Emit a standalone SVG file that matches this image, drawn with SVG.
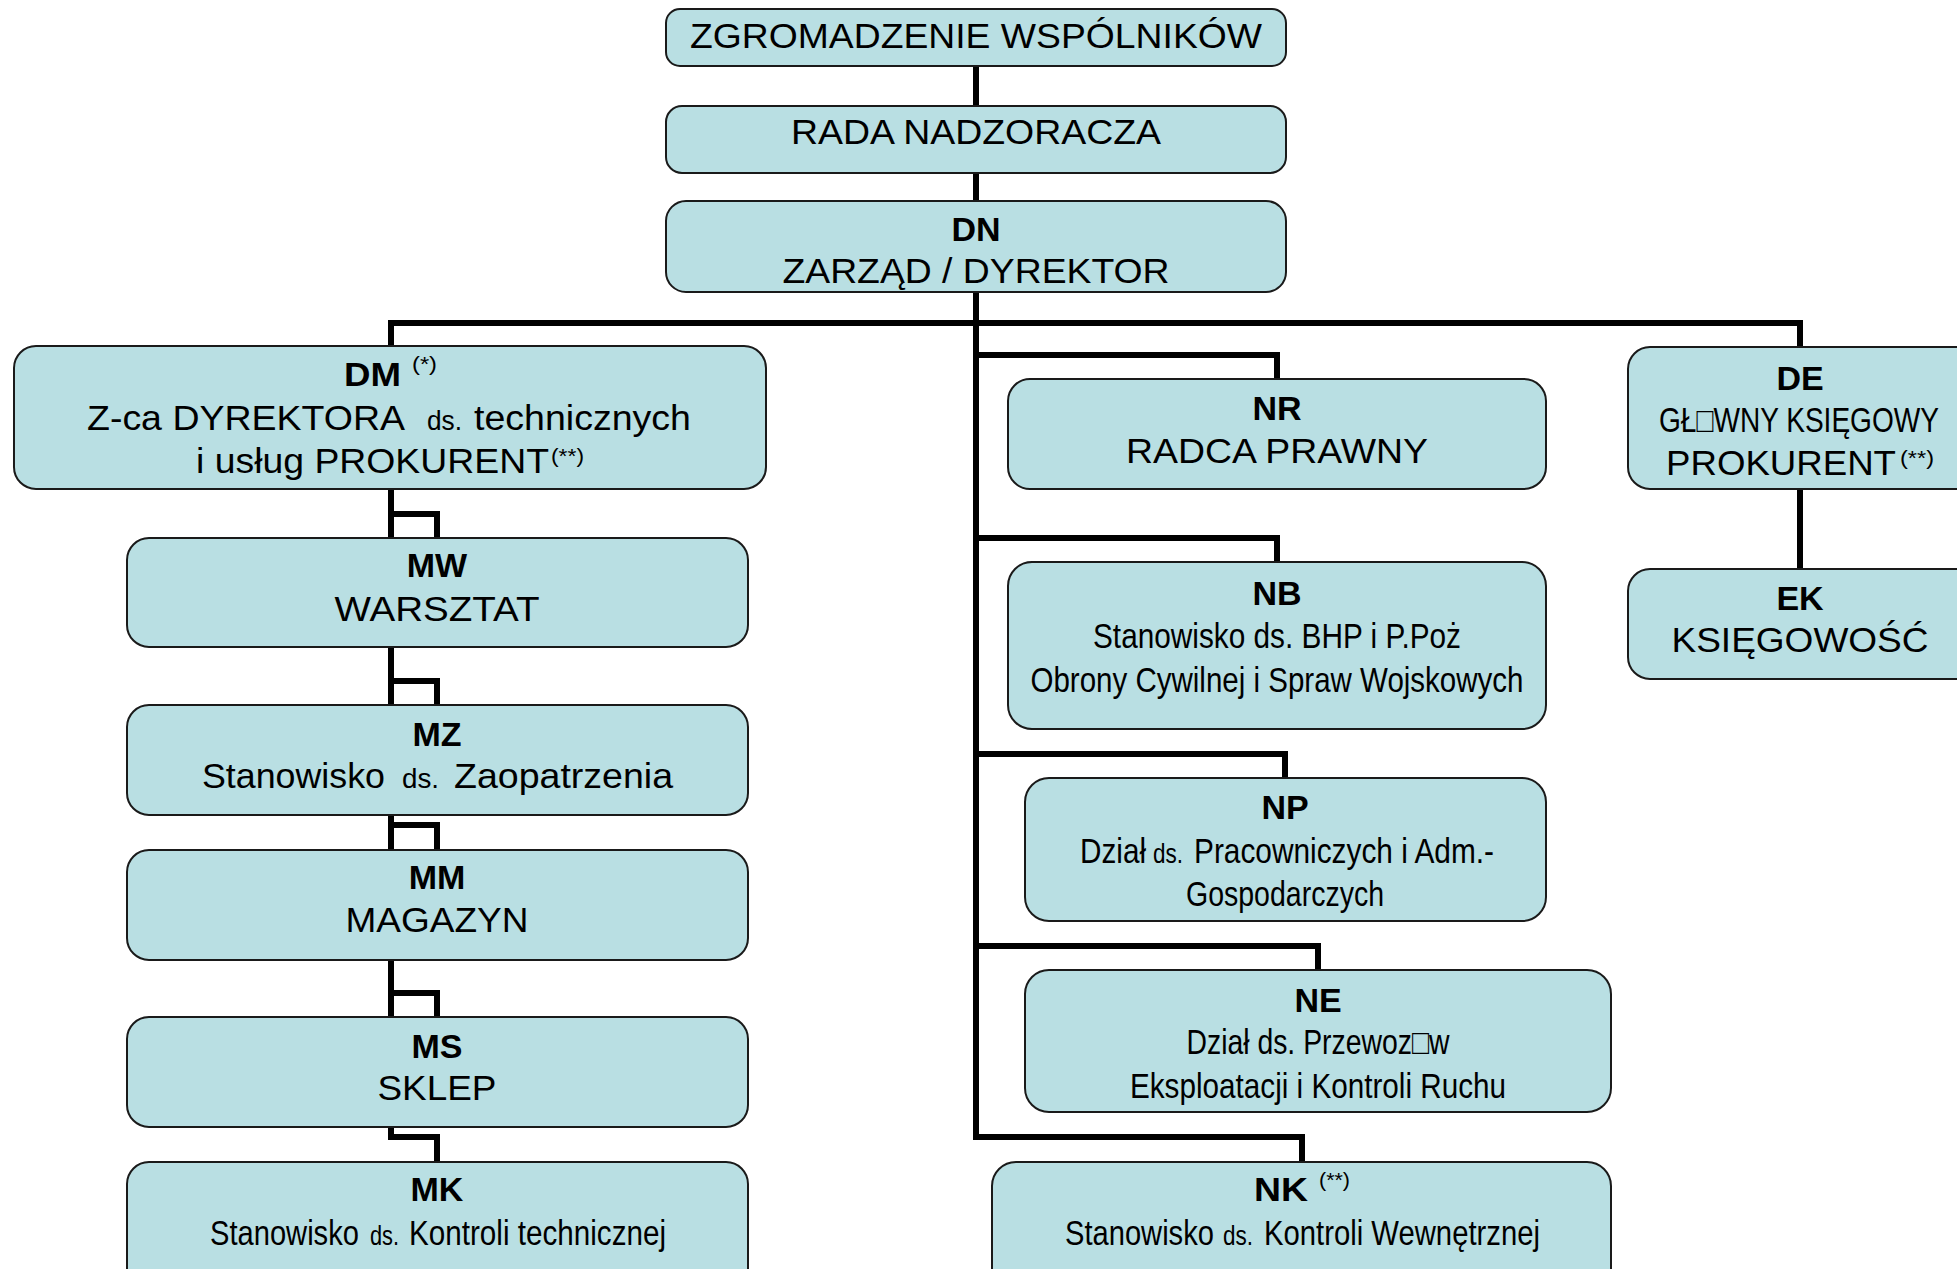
<svg xmlns="http://www.w3.org/2000/svg" width="1957" height="1269" viewBox="0 0 1957 1269">
<style>
.bg{fill:#ffffff}
.box{fill:#B9DFE3;stroke:#1a1a1a;stroke-width:2}
.conn{fill:none;stroke:#000000;stroke-width:6;stroke-linejoin:miter;stroke-linecap:butt}
text{font-family:"Liberation Sans",Arial,"DejaVu Sans",sans-serif;fill:#000000}
.n{font-family:"Liberation Sans Narrow","Arial Narrow","Liberation Sans",Arial,"DejaVu Sans",sans-serif}
.code{font-size:34px;font-weight:bold;text-anchor:middle}
.codeS{font-size:34px;font-weight:bold}
.t{font-size:35px;text-anchor:middle}
.ts{font-size:35px}
.sm{font-size:27px}
.sup{font-size:20px}
</style>
<rect class="bg" x="0" y="0" width="1957" height="1269"/>
<g id="connectors">
<path class="conn" d="M976 66 V106"/>
<path class="conn" d="M976 173 V201"/>
<path class="conn" d="M976 292 V1137 H1302 V1162"/>
<path class="conn" d="M391 346 V323 H1800 V347"/>
<path class="conn" d="M976 355 H1277 V379"/>
<path class="conn" d="M976 538 H1277 V562"/>
<path class="conn" d="M976 754 H1285 V778"/>
<path class="conn" d="M976 946 H1318 V970"/>
<path class="conn" d="M391 489 V1137 H437 V1162"/>
<path class="conn" d="M391 514 H437 V538"/>
<path class="conn" d="M391 681 H437 V705"/>
<path class="conn" d="M391 825 H437 V850"/>
<path class="conn" d="M391 993 H437 V1017"/>
<path class="conn" d="M1800 489 V569"/>
</g>
<g id="node-zgromadzenie">
<rect class="box" x="666" y="9" width="620" height="57" rx="14"/>
<text class="t" x="976" y="48" textLength="572" lengthAdjust="spacingAndGlyphs">ZGROMADZENIE WSPÓLNIKÓW</text>
</g>
<g id="node-rada">
<rect class="box" x="666" y="106" width="620" height="67" rx="16"/>
<text class="t" x="976" y="144" textLength="370" lengthAdjust="spacingAndGlyphs">RADA NADZORACZA</text>
</g>
<g id="node-DN">
<rect class="box" x="666" y="201" width="620" height="91" rx="20"/>
<text class="code" x="976" y="241">DN</text>
<text class="t" x="976" y="283" textLength="387" lengthAdjust="spacingAndGlyphs">ZARZĄD / DYREKTOR</text>
</g>
<g id="node-DM">
<rect class="box" x="14" y="346" width="752" height="143" rx="22"/>
<text class="codeS" x="344" y="386" textLength="57" lengthAdjust="spacingAndGlyphs">DM</text>
<text class="sup" x="412" y="371" textLength="25" lengthAdjust="spacingAndGlyphs">(*)</text>
<text class="ts" x="87" y="430" textLength="318" lengthAdjust="spacingAndGlyphs">Z-ca DYREKTORA</text>
<text class="sm n" x="427" y="430" textLength="35" lengthAdjust="spacingAndGlyphs">ds.</text>
<text class="ts" x="474" y="430" textLength="217" lengthAdjust="spacingAndGlyphs">technicznych</text>
<text class="ts" x="196" y="473" textLength="353" lengthAdjust="spacingAndGlyphs">i usług PROKURENT</text>
<text class="sup" x="551" y="463" textLength="33" lengthAdjust="spacingAndGlyphs">(**)</text>
</g>
<g id="node-NR">
<rect class="box" x="1008" y="379" width="538" height="110" rx="22"/>
<text class="code" x="1277" y="420">NR</text>
<text class="t" x="1277" y="463" textLength="302" lengthAdjust="spacingAndGlyphs">RADCA PRAWNY</text>
</g>
<g id="node-DE">
<rect class="box" x="1628" y="347" width="352" height="142" rx="22"/>
<text class="code" x="1800" y="390">DE</text>
<text class="t n" transform="translate(1799 432) scale(0.8 1)" x="0" y="0" textLength="350" lengthAdjust="spacingAndGlyphs">GŁ□WNY KSIĘGOWY</text>
<text class="ts" x="1666" y="475" textLength="230" lengthAdjust="spacingAndGlyphs">PROKURENT</text>
<text class="sup" x="1900" y="465" textLength="34" lengthAdjust="spacingAndGlyphs">(**)</text>
</g>
<g id="node-EK">
<rect class="box" x="1628" y="569" width="352" height="110" rx="22"/>
<text class="code" x="1800" y="610">EK</text>
<text class="t" x="1800" y="652" textLength="257" lengthAdjust="spacingAndGlyphs">KSIĘGOWOŚĆ</text>
</g>
<g id="node-MW">
<rect class="box" x="127" y="538" width="621" height="109" rx="22"/>
<text class="code" x="437" y="577">MW</text>
<text class="t" x="437" y="621" textLength="205" lengthAdjust="spacingAndGlyphs">WARSZTAT</text>
</g>
<g id="node-MZ">
<rect class="box" x="127" y="705" width="621" height="110" rx="22"/>
<text class="code" x="437" y="746">MZ</text>
<text class="ts" x="202" y="788" textLength="183" lengthAdjust="spacingAndGlyphs">Stanowisko</text>
<text class="sm n" x="402" y="788" textLength="37" lengthAdjust="spacingAndGlyphs">ds.</text>
<text class="ts" x="454" y="788" textLength="219" lengthAdjust="spacingAndGlyphs">Zaopatrzenia</text>
</g>
<g id="node-MM">
<rect class="box" x="127" y="850" width="621" height="110" rx="22"/>
<text class="code" x="437" y="889">MM</text>
<text class="t" x="437" y="932" textLength="183" lengthAdjust="spacingAndGlyphs">MAGAZYN</text>
</g>
<g id="node-MS">
<rect class="box" x="127" y="1017" width="621" height="110" rx="22"/>
<text class="code" x="437" y="1058">MS</text>
<text class="t" x="437" y="1100" textLength="119" lengthAdjust="spacingAndGlyphs">SKLEP</text>
</g>
<g id="node-MK">
<rect class="box" x="127" y="1162" width="621" height="130" rx="22"/>
<text class="code" x="437" y="1201">MK</text>
<text class="ts n" transform="translate(210 1245) scale(0.832 1)" x="0" y="0" textLength="179" lengthAdjust="spacingAndGlyphs">Stanowisko</text>
<text class="sm n" x="370" y="1245" textLength="29" lengthAdjust="spacingAndGlyphs">ds.</text>
<text class="ts n" x="409" y="1245" textLength="257" lengthAdjust="spacingAndGlyphs">Kontroli technicznej</text>
</g>
<g id="node-NB">
<rect class="box" x="1008" y="562" width="538" height="167" rx="24"/>
<text class="code" x="1277" y="605">NB</text>
<text class="t n" x="1277" y="648" textLength="368" lengthAdjust="spacingAndGlyphs">Stanowisko ds. BHP i P.Poż</text>
<text class="t n" x="1277" y="692" textLength="493" lengthAdjust="spacingAndGlyphs">Obrony Cywilnej i Spraw Wojskowych</text>
</g>
<g id="node-NP">
<rect class="box" x="1025" y="778" width="521" height="143" rx="24"/>
<text class="code" x="1285" y="819">NP</text>
<text class="ts n" transform="translate(1080 863) scale(0.846 1)" x="0" y="0" textLength="78" lengthAdjust="spacingAndGlyphs">Dział</text>
<text class="sm n" x="1153" y="863" textLength="30" lengthAdjust="spacingAndGlyphs">ds.</text>
<text class="ts n" x="1194" y="863" textLength="300" lengthAdjust="spacingAndGlyphs">Pracowniczych i Adm.-</text>
<text class="t n" x="1285" y="906" textLength="198" lengthAdjust="spacingAndGlyphs">Gospodarczych</text>
</g>
<g id="node-NE">
<rect class="box" x="1025" y="970" width="586" height="142" rx="24"/>
<text class="code" x="1318" y="1012">NE</text>
<text class="t n" x="1318" y="1054" textLength="263" lengthAdjust="spacingAndGlyphs">Dział ds. Przewoz□w</text>
<text class="t n" x="1318" y="1098" textLength="376" lengthAdjust="spacingAndGlyphs">Eksploatacji i Kontroli Ruchu</text>
</g>
<g id="node-NK">
<rect class="box" x="992" y="1162" width="619" height="130" rx="24"/>
<text class="codeS" x="1254" y="1201" textLength="54" lengthAdjust="spacingAndGlyphs">NK</text>
<text class="sup" x="1319" y="1187" textLength="31" lengthAdjust="spacingAndGlyphs">(**)</text>
<text class="ts n" transform="translate(1065 1245) scale(0.832 1)" x="0" y="0" textLength="179" lengthAdjust="spacingAndGlyphs">Stanowisko</text>
<text class="sm n" x="1223" y="1245" textLength="30" lengthAdjust="spacingAndGlyphs">ds.</text>
<text class="ts n" x="1264" y="1245" textLength="276" lengthAdjust="spacingAndGlyphs">Kontroli Wewnętrznej</text>
</g>
</svg>
